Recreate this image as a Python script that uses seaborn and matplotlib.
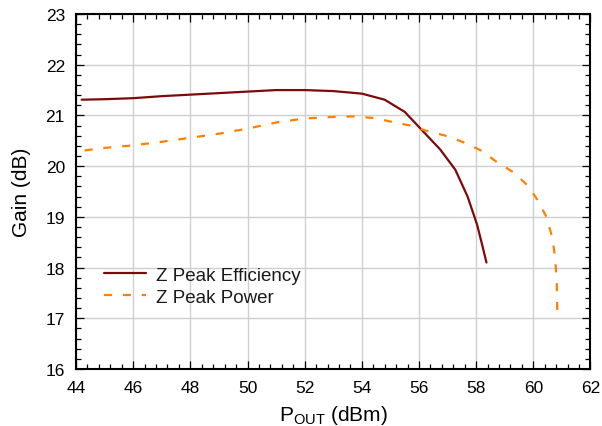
import matplotlib
matplotlib.use("Agg")
import matplotlib.pyplot as plt
from matplotlib.ticker import MultipleLocator
import seaborn as sns
import pandas as pd

# Data
pout_eff = [44.2, 45, 46, 47, 48, 49, 50, 51, 52, 53, 54, 54.8, 55.5,
            56.74, 57.27, 57.7, 58.03, 58.2, 58.36]
gain_eff = [21.31, 21.32, 21.34, 21.38, 21.41, 21.44, 21.47, 21.50, 21.50,
            21.48, 21.43, 21.31, 21.07, 20.33, 19.93, 19.40, 18.85, 18.47, 18.10]

pout_pow = [44.3, 45, 46, 47, 48, 49, 50, 51, 52, 53, 53.7, 54.4, 55, 55.7,
            56.3, 57, 57.6, 58.2, 58.7, 59.3, 59.8, 60.15, 60.45, 60.65,
            60.76, 60.82, 60.84]
gain_pow = [20.31, 20.36, 20.41, 20.48, 20.56, 20.64, 20.74, 20.86, 20.94,
            20.97, 20.98, 20.95, 20.88, 20.80, 20.69, 20.59, 20.46, 20.30,
            20.09, 19.88, 19.62, 19.33, 19.01, 18.62, 18.22, 17.70, 17.05]

labels = ["Z Peak Efficiency", "Z Peak Power"]
x_ticks = list(range(44, 63, 2))
y_ticks = list(range(16, 24))

sns.set_style("ticks")
plt.rcParams['font.family'] = ['Liberation Sans', 'DejaVu Sans']
plt.rcParams['mathtext.fontset'] = 'custom'
plt.rcParams['mathtext.rm'] = 'Liberation Sans'
plt.rcParams['mathtext.it'] = 'Liberation Sans:italic'
plt.rcParams['text.color'] = 'black'
plt.rcParams['axes.labelcolor'] = 'black'
plt.rcParams['xtick.color'] = 'black'
plt.rcParams['ytick.color'] = 'black'
plt.rcParams['lines.scale_dashes'] = False

fig = plt.figure(figsize=(6.02, 4.27), dpi=100)
ax = fig.add_axes([76 / 602, 1 - 370 / 427, 514.5 / 602, 355 / 427])

df_eff = pd.DataFrame({"x": pout_eff, "y": gain_eff})
df_pow = pd.DataFrame({"x": pout_pow, "y": gain_pow})

sns.lineplot(data=df_eff, x="x", y="y", ax=ax, sort=False, estimator=None,
             color="#7d0a0a", lw=1.6, label=labels[0], legend=False)
sns.lineplot(data=df_pow, x="x", y="y", ax=ax, sort=False, estimator=None,
             color="#ff8000", lw=1.6, label=labels[1], legend=False)
ax.lines[0].set_linestyle('-')
ax.lines[1].set_linestyle((0, (5.8, 7.8)))

ax.set_xlim(44, 62)
ax.set_ylim(16, 23)
ax.set_xticks(x_ticks)
ax.set_yticks(y_ticks)
ax.xaxis.set_minor_locator(MultipleLocator(0.4))
ax.yaxis.set_minor_locator(MultipleLocator(0.2))
ax.tick_params(which='both', direction='in', top=True, right=True,
               width=0.9, color='black', labelcolor='black')
ax.tick_params(which='major', length=5.5, labelsize=12.5, pad=8)
ax.tick_params(which='minor', length=3.5)
ax.set_axisbelow(True)
ax.grid(True, which='major', color='#cfcfcf', lw=1.0)
for s in ax.spines.values():
    s.set_linewidth(1.5)
    s.set_color('black')

ax.set_xlabel(r"P$_{\mathrm{OUT}}$ (dBm)", fontsize=15, labelpad=6)
ax.set_ylabel("Gain (dB)", fontsize=15, labelpad=10)

leg = ax.legend(handles=ax.lines[:2], labels=labels,
                loc='upper left', bbox_to_anchor=(0.055, 0.288), frameon=False,
                fontsize=13.5, handlelength=2.2, handletextpad=0.55,
                labelspacing=0.25, borderpad=0, borderaxespad=0)
for t in leg.get_texts():
    t.set_color('#1a1a1a')

fig.savefig("out.png", dpi=100)
